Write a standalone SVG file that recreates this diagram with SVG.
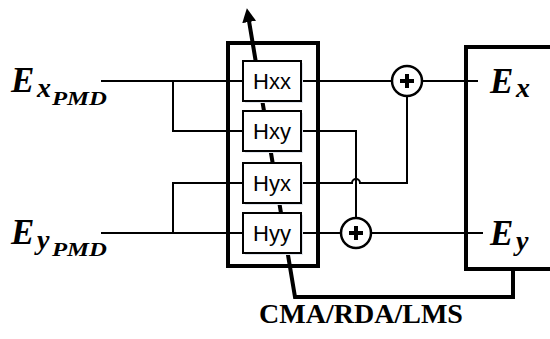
<svg xmlns="http://www.w3.org/2000/svg" width="550" height="339" viewBox="0 0 550 339">
  <style>
    .thin { fill: none; stroke: #000; stroke-width: 2; }
    .thick { fill: none; stroke: #000; stroke-width: 4; }
    .hbox { fill: #fff; stroke: #000; stroke-width: 2; }
    .shadow { fill: #dfe5ee; stroke: none; }
    .hlab { font-family: "Liberation Sans", Arial, sans-serif; font-size: 22px; fill: #000; text-anchor: middle; }
    .math { font-family: "Liberation Serif", "Times New Roman", serif; font-weight: bold; font-style: italic; fill: #000; }
    .adder { fill: #fff; stroke: #000; stroke-width: 2.5; }
    .plus { stroke: #000; stroke-width: 4; }
    .cap { font-family: "Liberation Serif", "Times New Roman", serif; font-weight: bold; font-size: 28px; fill: #000; text-anchor: middle; }
  </style>
  <defs>
    <marker id="arrow" markerUnits="userSpaceOnUse" markerWidth="14" markerHeight="14" viewBox="0 0 14 14" refX="1" refY="7" orient="auto">
      <path d="M0,0 L14,7 L0,14 Z" fill="#000"/>
    </marker>
  </defs>

  <g id="equalizer">
    <rect x="228" y="43" width="90" height="223" class="thick"/>
  </g>

  <g id="connectors">
    <polyline class="thick" points="513,269 513,297 295,297 249,21" marker-end="url(#arrow)"/>
    <line class="thin" x1="101" y1="81" x2="243" y2="81"/>
    <polyline class="thin" points="173,81 173,131 243,131"/>
    <line class="thin" x1="101" y1="233" x2="243" y2="233"/>
    <polyline class="thin" points="173,233 173,183 243,183"/>
    <line class="thin" x1="301" y1="81" x2="392" y2="81"/>
    <line class="thin" x1="422" y1="81" x2="478" y2="81"/>
    <polyline class="thin" points="301,131 356,131 356,218"/>
    <path class="thin" d="M301,183 L352,183 A4,4 0 0 1 360,183 L407,183 L407,96"/>
    <line class="thin" x1="301" y1="233" x2="341" y2="233"/>
    <line class="thin" x1="371" y1="233" x2="483" y2="233"/>
  </g>

  <g id="Hxx">
    <rect x="245" y="63" width="58" height="40" class="shadow"/>
    <rect x="243" y="61" width="58" height="40" class="hbox"/>
    <text x="272" y="89" class="hlab">Hxx</text>
  </g>
  <g id="Hxy">
    <rect x="245" y="113" width="58" height="40" class="shadow"/>
    <rect x="243" y="111" width="58" height="40" class="hbox"/>
    <text x="272" y="139" class="hlab">Hxy</text>
  </g>
  <g id="Hyx">
    <rect x="245" y="165" width="58" height="40" class="shadow"/>
    <rect x="243" y="163" width="58" height="40" class="hbox"/>
    <text x="272" y="191" class="hlab">Hyx</text>
  </g>
  <g id="Hyy">
    <rect x="245" y="215" width="58" height="40" class="shadow"/>
    <rect x="243" y="213" width="58" height="40" class="hbox"/>
    <text x="272" y="241" class="hlab">Hyy</text>
  </g>

  <g id="adder-x">
    <circle cx="407" cy="81" r="15" class="adder"/>
    <line x1="400" y1="81" x2="414" y2="81" class="plus"/>
    <line x1="407" y1="74" x2="407" y2="88" class="plus"/>
  </g>
  <g id="adder-y">
    <circle cx="356" cy="233" r="15" class="adder"/>
    <line x1="349" y1="233" x2="363" y2="233" class="plus"/>
    <line x1="356" y1="226" x2="356" y2="240" class="plus"/>
  </g>

  <g id="output-block">
    <polyline class="thick" points="552,47 466,47 466,269 552,269"/>
    <text class="math" x="490" y="93" font-size="35">E<tspan x="516" y="97" font-size="28">x</tspan></text>
    <text class="math" x="490" y="245" font-size="35">E<tspan x="516" y="250" font-size="28">y</tspan></text>
  </g>

  <g id="input-labels">
    <text class="math" x="11" y="92" font-size="35">E<tspan x="37" y="97" font-size="28">x</tspan><tspan x="52" y="105" font-size="19" textLength="55" lengthAdjust="spacingAndGlyphs">PMD</tspan></text>
    <text class="math" x="11" y="244" font-size="35">E<tspan x="37" y="249" font-size="28">y</tspan><tspan x="52" y="256" font-size="19" textLength="55" lengthAdjust="spacingAndGlyphs">PMD</tspan></text>
  </g>

  <g id="caption">
    <text class="cap" x="361" y="323">CMA/RDA/LMS</text>
  </g>
</svg>
